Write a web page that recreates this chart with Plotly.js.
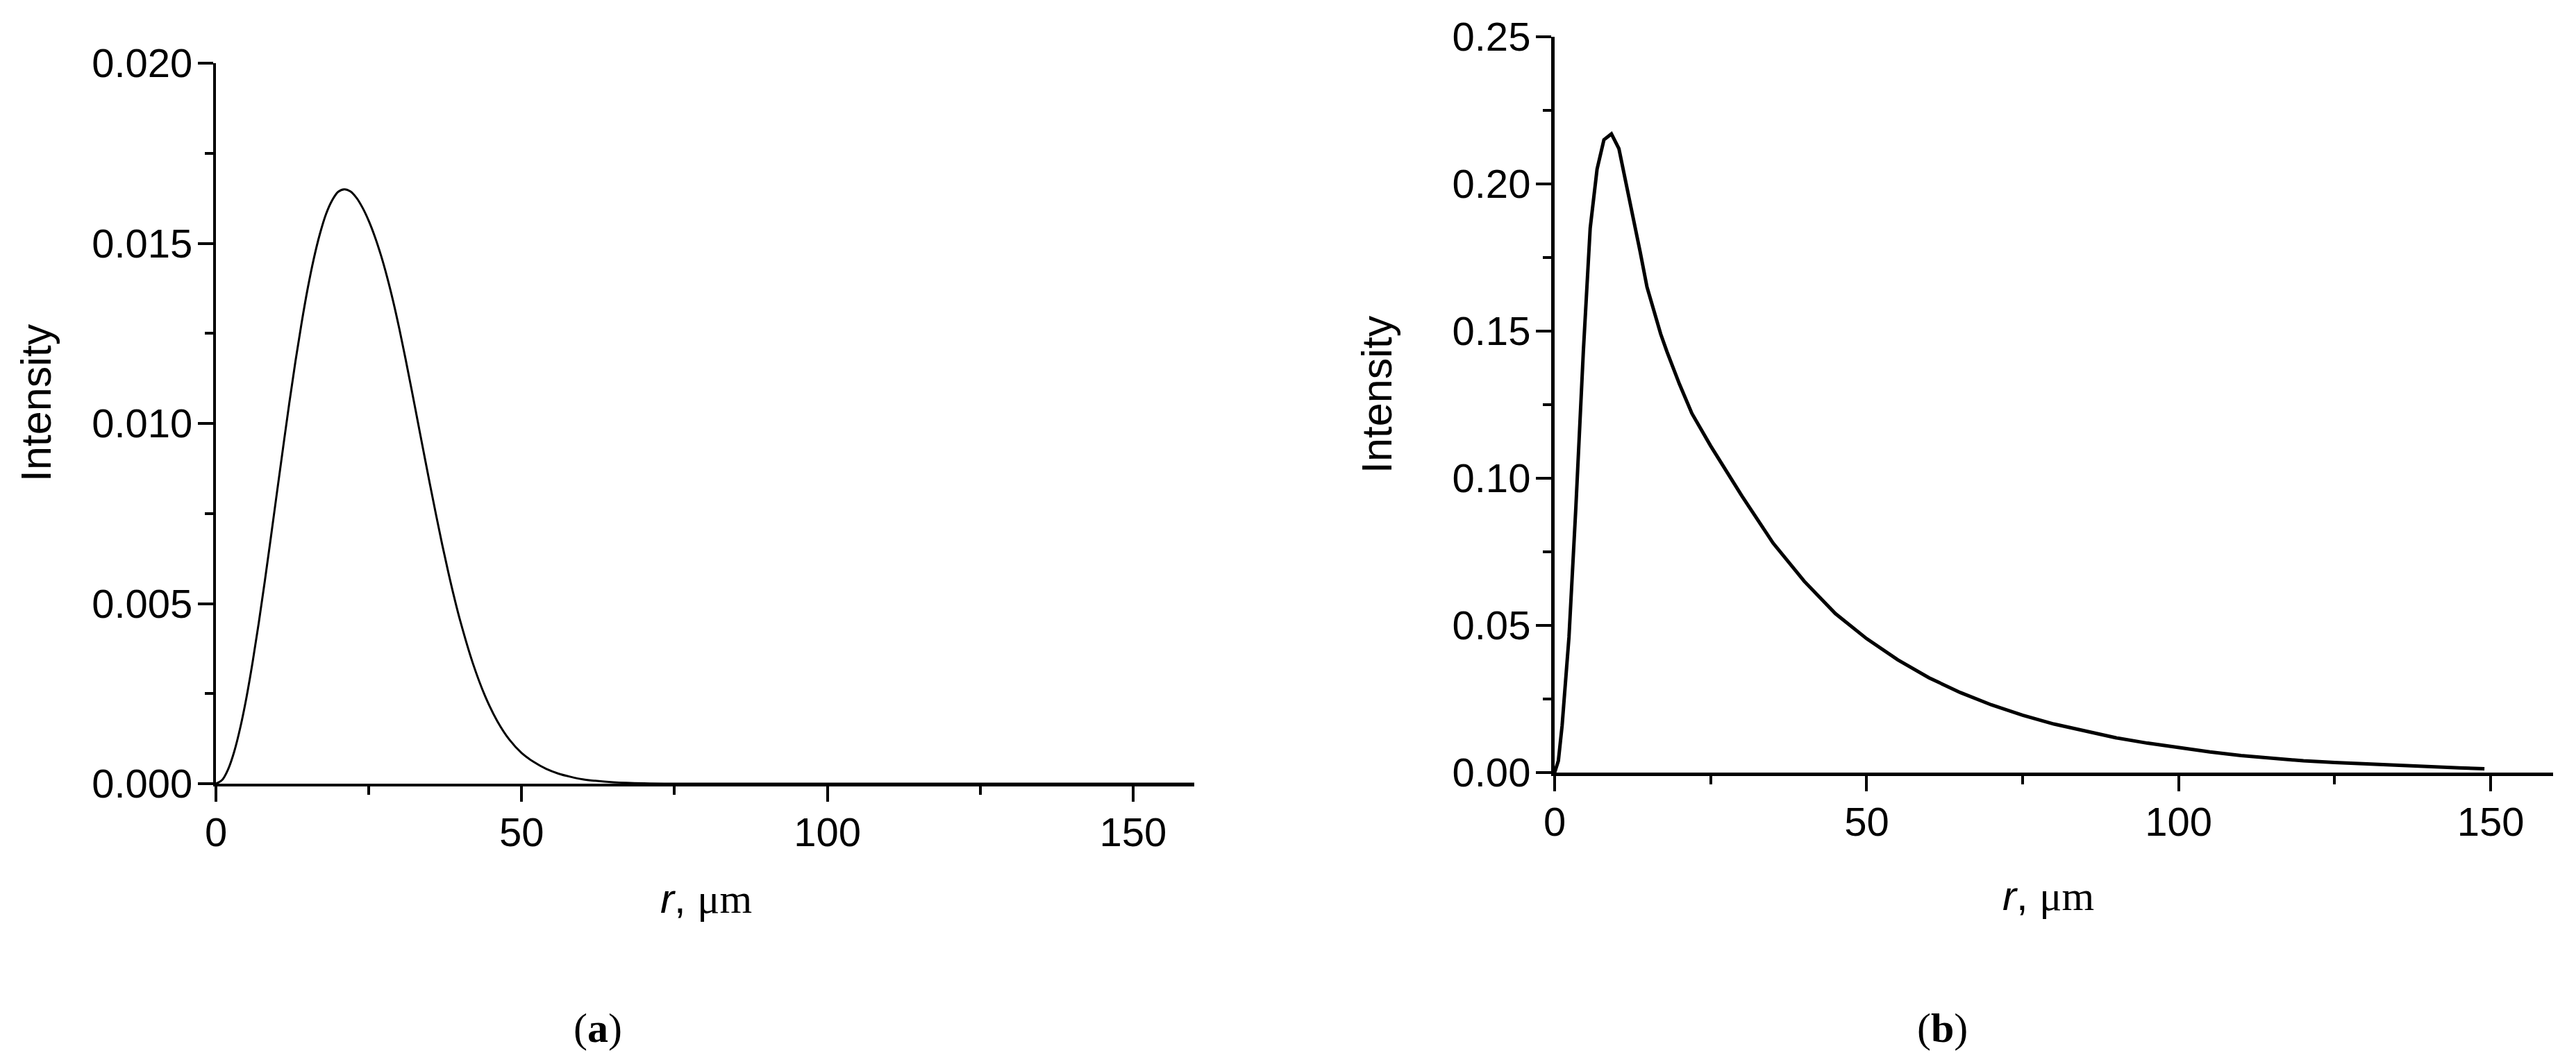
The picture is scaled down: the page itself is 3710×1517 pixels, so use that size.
<!DOCTYPE html>
<html><head><meta charset="utf-8">
<script src="https://cdn.plot.ly/plotly-3.0.1.min.js"></script>
<style>html,body{margin:0;padding:0;background:#fff}</style>
</head><body><div id="chart" style="width:3710px;height:1517px"></div>
<script>
// Panel (a): radius (µm) and intensity
const radiusA = [0,1,2,3,4,5,6,7,8,9,10,11,12,13,14,15,16,17,18,19,20,21,22,23,24,25,26,27,28,29,30,31,32,33,34,35,36,37,38,39,40,42,44,46,48,50,52,54,56,58,60,62,65,70,75,80,90,100,110,120,130,140,150,160];
const intensityA = [0,0.000101,0.000403,0.000897,0.00157,0.00240,0.003375,0.00446,0.00563,0.00686,0.00811,0.00935,0.01057,0.01172,0.01278,0.01374,0.01457,0.01526,0.01581,0.01619,0.01643,0.01650,0.01644,0.01626,0.01598,0.01562,0.01518,0.01466,0.01406,0.01338,0.01262,0.01180,0.01094,0.01006,0.00918,0.00831,0.00746,0.00664,0.00587,0.00515,0.00449,0.00335,0.00244,0.00174,0.00122,0.00085,0.00060,0.00041,0.00028,0.00019,0.00012,0.00008,0.00004,0.00001,0,0,0,0,0,0,0,0,0,0];
// Panel (b)
const radiusB = [0,0.6,1.2,2.3,3.4,4.6,5.7,6.8,7.9,9.1,10.3,11.4,12.5,13.7,14.8,16,17,18,20,22,25,30,35,40,45,50,55,60,65,70,75,80,85,90,95,100,105,110,115,120,125,130,135,140,145,149];
const intensityB = [0,0.004,0.016,0.046,0.09,0.143,0.185,0.205,0.215,0.217,0.212,0.201,0.190,0.177,0.165,0.156,0.149,0.143,0.132,0.122,0.111,0.094,0.078,0.065,0.054,0.0455,0.0383,0.0322,0.0272,0.023,0.0195,0.0165,0.014,0.0118,0.0100,0.0084,0.0070,0.0058,0.0048,0.0040,0.0034,0.0029,0.0025,0.0021,0.0016,0.0013];

const xTickStep = 50, xMinorStep = 25, xRange = [0,160];
const yRangeA = [0,0.020], yStepA = 0.005, yMinorA = 0.0025;
const yRangeB = [0,0.25], yStepB = 0.05, yMinorB = 0.025;
const yTitleText = 'Intensity';
const xTitleText = '<i>r</i>, <span style="font-family:\'Liberation Serif\'">μm</span>';
const panelLabels = ['(<b>a</b>)','(<b>b</b>)'];

const sans = 'Liberation Sans, Arial, sans-serif';
const serif = 'Liberation Serif, Times New Roman, serif';
const W = 3710, H = 1517;
const px = v => v / W, py = v => 1 - v / H;

function axis(extra){
  return Object.assign({
    showline:true, linecolor:'#000', linewidth:4,
    ticks:'outside', ticklen:22, tickwidth:4, tickcolor:'#000',
    showgrid:false, zeroline:false, mirror:false,
    tickfont:{family:sans, size:58, color:'#000'},
    fixedrange:true
  }, extra);
}
const minorTicks = d => ({ticks:'outside', ticklen:12, tickwidth:4, tickcolor:'#000', dtick:d, showgrid:false});

const traces = [
  {x:radiusA, y:intensityA, type:'scatter', mode:'lines', xaxis:'x', yaxis:'y',
   line:{color:'#000', width:3, shape:'spline', smoothing:1}, showlegend:false, hoverinfo:'skip'},
  {x:radiusB, y:intensityB, type:'scatter', mode:'lines', xaxis:'x2', yaxis:'y2',
   line:{color:'#000', width:5, shape:'linear'}, showlegend:false, hoverinfo:'skip'}
];

const layout = {
  width:W, height:H, margin:{l:0,r:0,t:0,b:0},
  paper_bgcolor:'#fff', plot_bgcolor:'#fff', showlegend:false,
  xaxis: axis({domain:[px(311), px(1720)], range:xRange, anchor:'y', tickmode:'linear', tick0:0, dtick:xTickStep,
    ticklabelstandoff:-6, minor:minorTicks(xMinorStep)}),
  yaxis: axis({domain:[py(1129), py(91)], range:yRangeA, anchor:'x', tickmode:'linear', tick0:0, dtick:yStepA, tickformat:'.3f',
    ticklabelstandoff:-4, minor:minorTicks(yMinorA)}),
  xaxis2: axis({domain:[px(2239), px(3677)], range:xRange, anchor:'y2', tickmode:'linear', tick0:0, dtick:xTickStep, linewidth:5,
    ticklabelstandoff:-6, minor:minorTicks(xMinorStep)}),
  yaxis2: axis({domain:[py(1113), py(53)], range:yRangeB, anchor:'x2', tickmode:'linear', tick0:0, dtick:yStepB, tickformat:'.2f', linewidth:5,
    ticklabelstandoff:-4, minor:minorTicks(yMinorB)}),
  annotations: [
    {xref:'paper', yref:'paper', x:px(52), y:py(580), text:yTitleText, textangle:-90, showarrow:false, xanchor:'center', yanchor:'middle', font:{family:sans, size:61, color:'#000'}},
    {xref:'paper', yref:'paper', x:px(1983), y:py(568), text:yTitleText, textangle:-90, showarrow:false, xanchor:'center', yanchor:'middle', font:{family:sans, size:61, color:'#000'}},
    {xref:'paper', yref:'paper', x:px(1017), y:py(1294), text:xTitleText, showarrow:false, xanchor:'center', yanchor:'middle', font:{family:sans, size:60, color:'#000'}},
    {xref:'paper', yref:'paper', x:px(2950), y:py(1290), text:xTitleText, showarrow:false, xanchor:'center', yanchor:'middle', font:{family:sans, size:60, color:'#000'}},
    {xref:'paper', yref:'paper', x:px(861), y:py(1481), text:panelLabels[0], showarrow:false, xanchor:'center', yanchor:'middle', font:{family:serif, size:60, color:'#000'}},
    {xref:'paper', yref:'paper', x:px(2797), y:py(1481), text:panelLabels[1], showarrow:false, xanchor:'center', yanchor:'middle', font:{family:serif, size:60, color:'#000'}}
  ]
};

Plotly.newPlot('chart', traces, layout, {staticPlot:true, displayModeBar:false});
</script></body></html>
